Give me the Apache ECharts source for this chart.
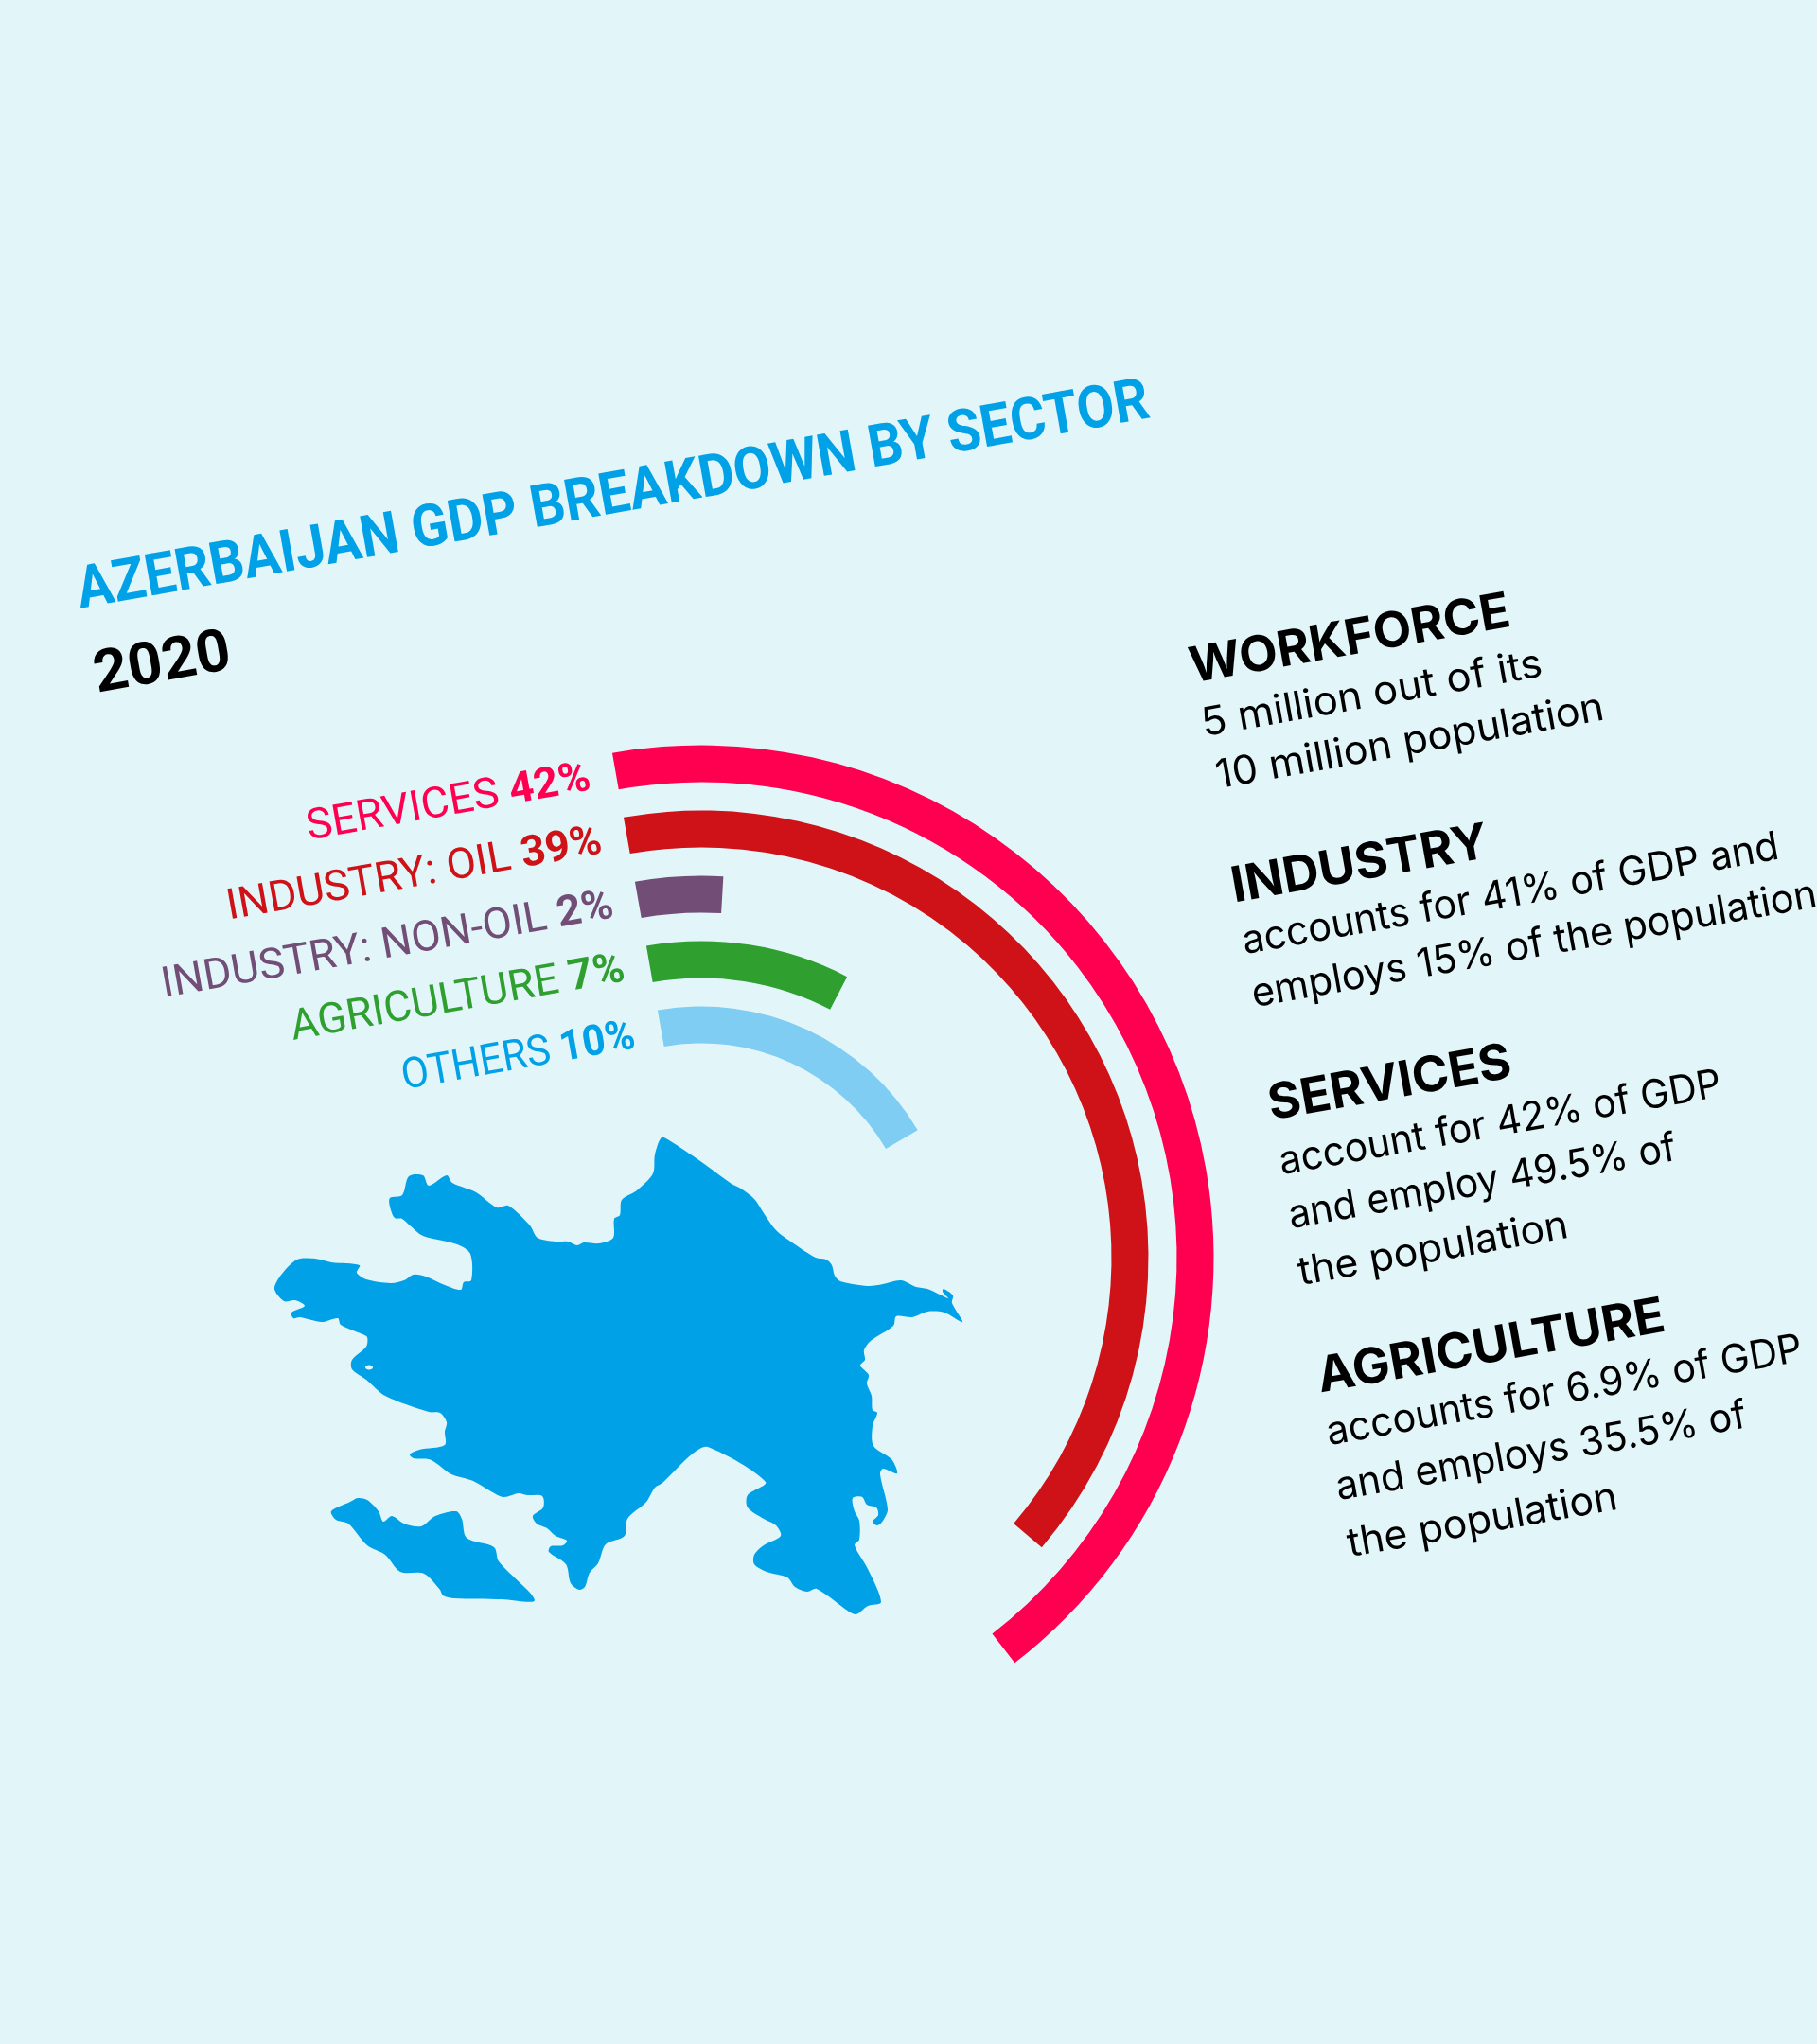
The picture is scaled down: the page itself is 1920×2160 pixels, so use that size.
<!DOCTYPE html>
<html>
<head>
<meta charset="utf-8">
<script src="https://cdn.jsdelivr.net/npm/echarts@6/dist/echarts.min.js"></script>
<style>html,body{margin:0;padding:0;background:#E2F6FA}#c{width:1920px;height:2160px}</style>
</head>
<body>
<div id="c"></div>
<script>
// ---- data ----
const sectors = ['SERVICES', 'INDUSTRY: OIL', 'INDUSTRY: NON-OIL', 'AGRICULTURE', 'OTHERS'];
const printedShares = ['42%', '39%', '2%', '7%', '10%'];
// length of each arc as drawn in the picture, in percent of a full circle
const arcLengths = [42.3, 39, 3.7, 10.4, 19.3];
const sectorColors = ['#FF0051', '#CE1217', '#724E77', '#2FA02F', '#80CDF3'];
const labelColors = ['#FF0051', '#CE1217', '#724E77', '#2FA02F', '#00A1E6'];
const chartTitle = 'AZERBAIJAN GDP BREAKDOWN BY SECTOR';
const chartYear = '2020';
const notes = [
  ['WORKFORCE', '5 million out of its', '10 million population'],
  ['INDUSTRY', 'accounts for 41% of GDP and', 'employs 15% of the population'],
  ['SERVICES', 'account for 42% of GDP', 'and employ 49.5% of', 'the population'],
  ['AGRICULTURE', 'accounts for 6.9% of GDP', 'and employs 35.5% of', 'the population']
];

// ---- decorative country outline ----
const mainland = [[699,1202],[707,1205],[740,1227],[773,1251],[783,1256],[797,1267],[807,1282],[820,1300],[837,1313],[862,1329],[873,1331],[879,1337],[882,1348],[888,1354],[917,1359],[933,1357],[952,1353],[968,1360],[980,1362],[993,1368],[1002,1372],[996,1365],[997,1362],[1007,1369],[1006,1377],[1017,1397],[998,1387],[980,1386],[964,1392],[947,1391],[944,1401],[920,1417],[913,1427],[914,1437],[909,1443],[918,1453],[916,1462],[921,1475],[922,1490],[927,1493],[922,1507],[923,1528],[942,1542],[948,1557],[933,1552],[930,1558],[938,1595],[933,1607],[927,1612],[922,1608],[928,1601],[926,1593],[916,1590],[911,1582],[901,1583],[903,1597],[908,1607],[908,1627],[903,1633],[917,1658],[931,1693],[917,1697],[905,1706],[897,1703],[863,1679],[853,1682],[840,1677],[832,1667],[810,1661],[797,1653],[797,1643],[807,1633],[825,1623],[820,1612],[807,1605],[790,1593],[790,1580],[809,1566],[748,1529],[732,1536],[700,1567],[692,1572],[683,1587],[663,1605],[660,1623],[640,1632],[632,1652],[623,1662],[618,1677],[612,1680],[603,1673],[598,1653],[580,1640],[582,1634],[595,1633],[599,1628],[587,1623],[578,1615],[567,1610],[563,1602],[574,1593],[573,1581],[557,1580],[548,1578],[532,1582],[517,1575],[500,1565],[477,1558],[462,1547],[453,1542],[437,1541],[433,1537],[443,1532],[470,1527],[470,1513],[472,1503],[465,1493],[453,1492],[407,1475],[387,1458],[372,1447],[372,1437],[387,1423],[388,1413],[383,1410],[360,1400],[357,1393],[340,1397],[317,1392],[310,1393],[308,1387],[322,1380],[312,1374],[300,1375],[290,1360],[312,1332],[333,1330],[350,1334],[380,1337],[377,1345],[387,1352],[413,1356],[427,1353],[437,1347],[450,1349],[470,1358],[487,1363],[490,1355],[498,1353],[497,1325],[483,1315],[447,1306],[433,1295],[425,1288],[417,1287],[412,1275],[412,1266],[425,1263],[432,1243],[447,1242],[453,1253],[472,1242],[478,1250],[503,1260],[525,1276],[537,1274],[560,1295],[568,1308],[587,1312],[600,1312],[610,1316],[617,1313],[633,1314],[648,1308],[649,1288],[655,1284],[657,1268],[673,1258],[690,1240],[692,1220]];
const exclave = [[350,1597],[370,1587],[378,1583],[388,1585],[400,1597],[405,1608],[414,1602],[427,1610],[445,1613],[460,1602],[482,1597],[488,1605],[493,1625],[522,1635],[527,1650],[565,1691],[530,1690],[480,1689],[468,1686],[465,1680],[448,1663],[423,1661],[407,1643],[388,1633],[368,1610],[355,1606]];

// ---- text drawing helpers ----
const TILT = 10.1 * Math.PI / 180;
const BLUE = '#00A1E6';
const mctx = document.createElement('canvas').getContext('2d');
function widthOf(text, font) { mctx.font = font; return mctx.measureText(text).width; }

// a tilted line: (bx, by) is the baseline point, len the wanted length along the baseline
function tilted(text, bx, by, len, size, weight, family, color) {
  const font = weight + ' ' + size + 'px ' + family;
  const d = size * 0.23;
  return {
    type: 'text', silent: true, z: 10,
    x: bx + d * Math.sin(TILT), y: by + d * Math.cos(TILT),
    rotation: TILT, scaleX: len / widthOf(text, font),
    style: { text, font, fontFamily: family, fontSize: size, fontWeight: weight, fill: color, align: 'left', verticalAlign: 'bottom' }
  };
}

const LF = 'Roboto';
const labelSize = 45;
const labelEnds = [[626,835,304],[638,902,402],[650,970,484],[662,1037,358],[673,1108,250]];
function sectorLabel(i) {
  const [bx, by, len] = labelEnds[i];
  const nameFont = '400 ' + labelSize + 'px ' + LF;
  const pctFont = '700 ' + labelSize + 'px ' + LF;
  const natural = widthOf(sectors[i] + ' ', nameFont) + widthOf(printedShares[i], pctFont);
  const d = labelSize * 0.23;
  return {
    type: 'text', silent: true, z: 10,
    x: bx + d * Math.sin(TILT), y: by + d * Math.cos(TILT),
    rotation: TILT, scaleX: len / natural,
    style: {
      text: '{n|' + sectors[i] + ' }{p|' + printedShares[i] + '}',
      align: 'right', verticalAlign: 'bottom',
      rich: {
        n: { fontFamily: LF, fontSize: labelSize, fontWeight: 400, fill: labelColors[i], color: labelColors[i] },
        p: { fontFamily: LF, fontSize: labelSize, fontWeight: 700, fill: labelColors[i], color: labelColors[i] }
      }
    }
  };
}

const noteLayout = [
  [[1260,720,343],[1272,777,365],[1287,832,416]],
  [[1304,952,275],[1315,1007,575],[1325,1063,606]],
  [[1343,1182,260],[1354,1240,474],[1364,1297,415],[1374,1357,289]],
  [[1395,1470,372],[1404,1526,510],[1414,1584,440],[1426,1644,289]]
];
const noteTexts = [];
notes.forEach((block, b) => block.forEach((line, l) => {
  const [x, y, len] = noteLayout[b][l];
  noteTexts.push(l === 0
    ? tilted(line, x, y, len, 52, 700, 'Inter', '#000000')
    : tilted(line, x, y, len, 42, 400, 'Inter', '#000000'));
}));

const chart = echarts.init(document.getElementById('c'), null, { renderer: 'canvas' });
chart.setOption({
  animation: false,
  backgroundColor: '#E2F6FA',
  polar: { center: [741, 1329], radius: [211.5, 556.5] },
  angleAxis: { type: 'value', min: 0, max: 100, startAngle: 100, clockwise: true, show: false },
  radiusAxis: { type: 'category', data: sectors, inverse: true, show: false },
  series: [{
    type: 'bar', coordinateSystem: 'polar', barWidth: 39, silent: true,
    data: arcLengths.map((v, i) => ({ value: v, itemStyle: { color: sectorColors[i] } }))
  }],
  graphic: { elements: [
    { type: 'polygon', silent: true, z: 1, shape: { points: mainland, smooth: 0.3 }, style: { fill: BLUE } },
    { type: 'polygon', silent: true, z: 1, shape: { points: exclave, smooth: 0.3 }, style: { fill: BLUE } },
    { type: 'ellipse', silent: true, z: 2, shape: { cx: 390, cy: 1445, rx: 4, ry: 2.5 }, style: { fill: '#E2F6FA' } },
    tilted(chartTitle, 85, 644, 1150, 62, 700, 'Roboto', BLUE),
    tilted(chartYear, 103, 733, 146, 62, 700, 'Roboto', '#000000'),
    ...sectors.map((s, i) => sectorLabel(i)),
    ...noteTexts
  ] }
});
</script>
</body>
</html>
